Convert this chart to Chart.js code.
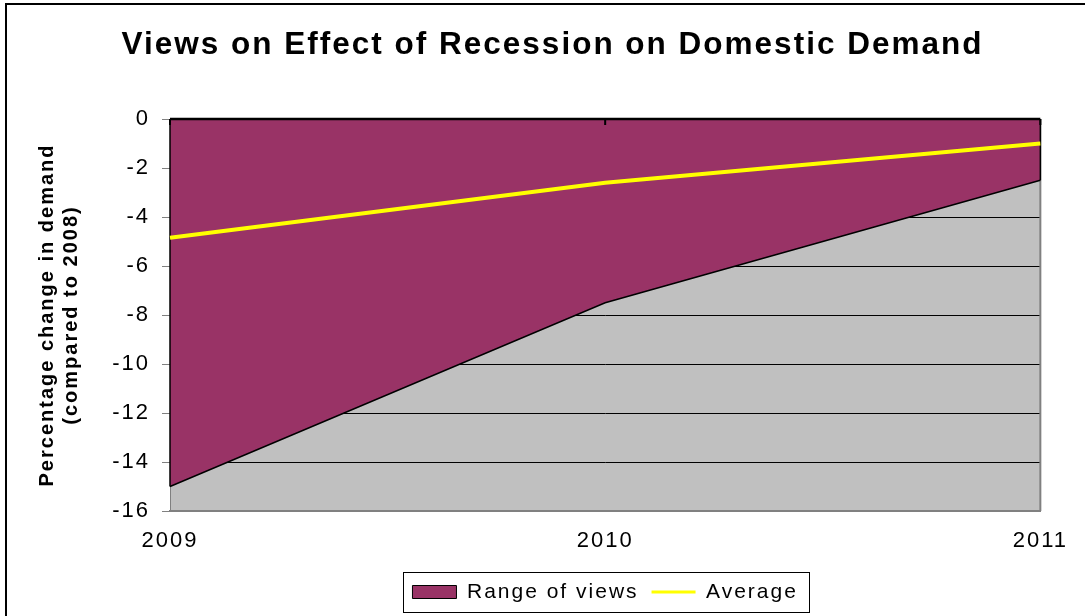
<!DOCTYPE html>
<html>
<head>
<meta charset="utf-8">
<title>Views on Effect of Recession on Domestic Demand</title>
<script src="https://cdn.jsdelivr.net/npm/chart.js@4.4.1/dist/chart.umd.min.js"></script>
<style>
  html, body { margin: 0; padding: 0; background: #fff; }
  #wrap { width: 1085px; height: 616px; position: relative; }
</style>
</head>
<body>
<div id="wrap"><canvas id="recessionChart"></canvas></div>
<script>
const years = ['2009', '2010', '2011'];
const rangeLow = [-15, -7.5, -2.5];     // lower end of the range of views (upper end is 0)
const average = [-4.85, -2.6, -1.0];
const yMin = -16, yMax = 0, yStep = 2;

const FONT = "'Liberation Sans', Arial, sans-serif";
const PURPLE = '#993366';
const PLOT_GREY = '#C0C0C0';
const AXIS_GREY = '#808080';

Chart.defaults.font.family = FONT;
Chart.defaults.color = '#000';

// old office charts space their letters out a bit
const spacing = {
  id: 'spacing',
  beforeUpdate(chart) { chart.ctx.letterSpacing = '2px'; },
  beforeDraw(chart) { chart.ctx.letterSpacing = '2px'; }
};

const plotBackground = {
  id: 'plotBackground',
  beforeDraw(chart) {
    const {ctx, chartArea: a, width, height} = chart;
    ctx.save();
    ctx.fillStyle = '#fff';
    ctx.fillRect(0, 0, width, height);
    ctx.fillStyle = PLOT_GREY;
    ctx.fillRect(a.left, a.top, a.right - a.left, a.bottom - a.top);
    // frame round the chart
    ctx.strokeStyle = '#000';
    ctx.lineWidth = 2;
    ctx.beginPath();
    ctx.moveTo(6, height);
    ctx.lineTo(6, 4);
    ctx.lineTo(width, 4);
    ctx.stroke();
    ctx.restore();
  },
  beforeDatasetsDraw(chart) {
    const {ctx, chartArea: a} = chart;
    ctx.save();
    ctx.strokeStyle = AXIS_GREY;
    ctx.lineWidth = 2;
    ctx.beginPath();
    ctx.moveTo(a.right, a.top);
    ctx.lineTo(a.right, a.bottom);
    ctx.stroke();
    ctx.restore();
  }
};

// edges of the range area and the category ticks on the zero line
const rangeOutline = {
  id: 'rangeOutline',
  afterDatasetDraw(chart, args) {
    if (args.index !== 0) return;
    const {ctx, scales: {x, y}} = chart;
    const y0 = y.getPixelForValue(0);
    const first = x.getPixelForValue(0);
    const last = x.getPixelForValue(years.length - 1);
    ctx.save();
    ctx.strokeStyle = '#000';
    ctx.lineWidth = 1.5;
    ctx.beginPath();
    ctx.moveTo(first, y.getPixelForValue(rangeLow[0]));
    ctx.lineTo(first, y0);
    ctx.moveTo(last, y0);
    ctx.lineTo(last, y.getPixelForValue(rangeLow[rangeLow.length - 1]));
    ctx.stroke();
    ctx.lineWidth = 2.5;
    ctx.beginPath();
    ctx.moveTo(first, y0);
    ctx.lineTo(last, y0);
    ctx.stroke();
    ctx.lineWidth = 2;
    ctx.beginPath();
    years.forEach((_, i) => {
      const px = x.getPixelForValue(i);
      ctx.moveTo(px, y0);
      ctx.lineTo(px, y0 + 6);
    });
    ctx.stroke();
    ctx.restore();
  }
};

const legendFrame = {
  id: 'legendFrame',
  afterDraw(chart) {
    const boxes = chart.legend && chart.legend.legendHitBoxes;
    if (!boxes || !boxes.length) return;
    const {ctx} = chart;
    const left = Math.min(...boxes.map(b => b.left)) - 9;
    const right = Math.max(...boxes.map(b => b.left + b.width)) + 12;
    const mid = boxes[0].top + boxes[0].height / 2;
    ctx.save();
    ctx.strokeStyle = '#000';
    ctx.lineWidth = 1;
    ctx.strokeRect(Math.round(left) + 0.5, Math.round(mid - 20) + 0.5, Math.round(right - left), 40);
    ctx.restore();
  }
};

const ctx = document.getElementById('recessionChart').getContext('2d');

const chart = new Chart(ctx, {
  type: 'line',
  data: {
    labels: years,
    datasets: [{
      label: 'Range of views',
      data: rangeLow,
      fill: {value: 0},
      backgroundColor: PURPLE,
      borderColor: '#000',
      borderWidth: 1.5,
      pointRadius: 0,
      tension: 0,
      order: 1
    }, {
      label: 'Average',
      data: average,
      fill: false,
      borderColor: '#FFFF00',
      borderWidth: 4,
      pointRadius: 0,
      tension: 0,
      order: 0
    }]
  },
  options: {
    responsive: true,
    maintainAspectRatio: false,
    animation: false,
    layout: {padding: {left: 20, right: 0, top: 0, bottom: 3.5}},
    plugins: {
      title: {
        display: true,
        text: 'Views on Effect of Recession on Domestic Demand',
        font: {size: 31.5, weight: 'bold', lineHeight: 1.2},
        color: '#000',
        padding: {top: 26.1, bottom: 55.1}
      },
      legend: {
        position: 'bottom',
        fullSize: false,
        labels: {
          font: {size: 21},
          padding: 13,
          usePointStyle: true,
          pointStyleWidth: 44,
          boxHeight: 13,
          generateLabels(c) {
            return c.data.datasets.map((ds, i) => ({
              text: ds.label,
              fillStyle: i === 0 ? ds.backgroundColor : ds.borderColor,
              strokeStyle: i === 0 ? '#000' : ds.borderColor,
              lineWidth: i === 0 ? 1 : 3,
              pointStyle: i === 0 ? 'rect' : 'line',
              datasetIndex: i,
              hidden: false
            }));
          }
        }
      },
      tooltip: {enabled: false}
    },
    scales: {
      x: {
        type: 'category',
        offset: false,
        grid: {display: false, drawTicks: false},
        border: {color: AXIS_GREY, width: 2},
        ticks: {font: {size: 22}, padding: 17, maxRotation: 0, autoSkip: false},
        afterFit(s) { s.height = 57.5; }
      },
      y: {
        min: yMin,
        max: yMax,
        ticks: {stepSize: yStep, font: {size: 22}, padding: 12},
        grid: {
          color: c => (c.tick && (c.tick.value === yMin || c.tick.value === yMax)) ? 'rgba(0,0,0,0)' : '#000',
          lineWidth: 1,
          tickColor: AXIS_GREY,
          tickLength: 8
        },
        border: {color: AXIS_GREY, width: 1},
        title: {
          display: true,
          text: ['Percentage change in demand', '(compared to 2008)'],
          font: {size: 20, weight: 'bold', lineHeight: 1.2},
          color: '#000',
          padding: {top: 15, bottom: 0}
        },
        afterFit(s) { s.width = 150; }
      },
      y2: {
        position: 'right',
        display: true,
        grid: {display: false},
        border: {display: false},
        ticks: {display: false},
        afterFit(s) { s.width = 38; }
      }
    }
  },
  plugins: [spacing, plotBackground, rangeOutline, legendFrame]
});
</script>
</body>
</html>
